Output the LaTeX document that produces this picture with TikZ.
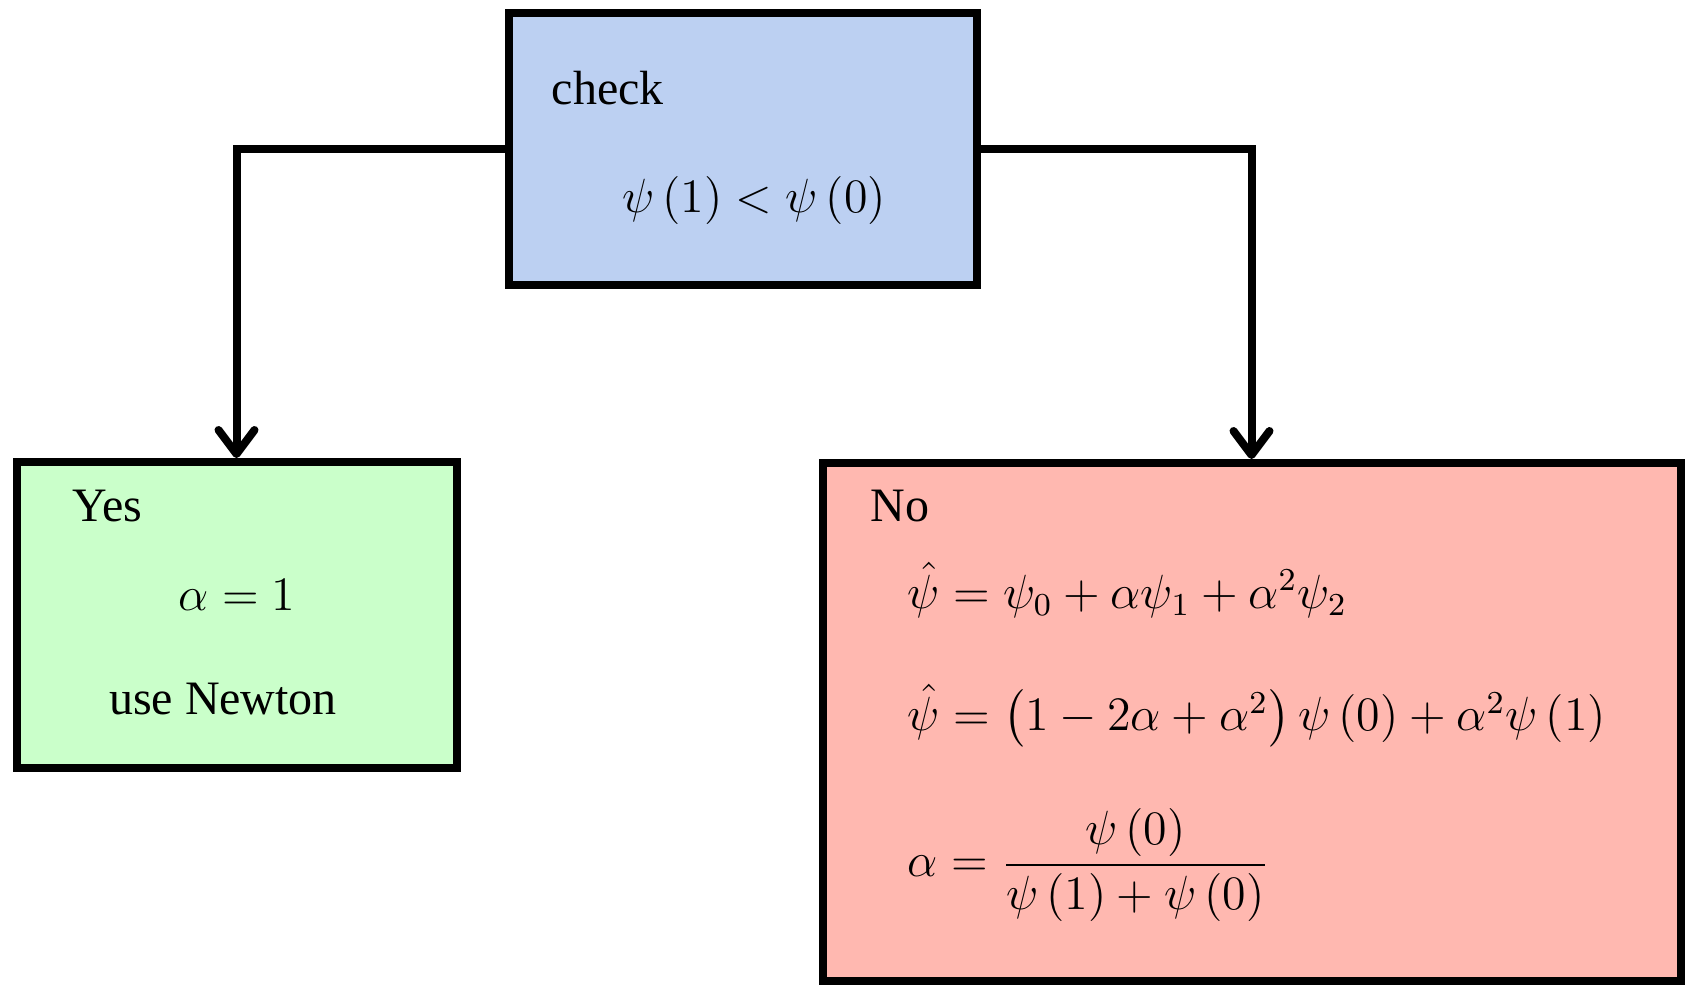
\documentclass[tikz,border=0pt,12pt]{standalone}
\usepackage{amsmath, amssymb}
\usepackage[no-math]{fontspec}
\setmainfont{Liberation Serif}
\usetikzlibrary{arrows.meta}
\definecolor{checkblue}{RGB}{188,208,242}
\definecolor{yesgreen}{RGB}{202,255,202}
\definecolor{nored}{RGB}{255,184,176}
\tikzstyle{box} = [rectangle, draw=black, line width=2pt, inner sep=0pt]
\tikzstyle{checkbox} = [box, fill=checkblue, minimum width=117pt, minimum height=68pt]
\tikzstyle{yesbox} = [box, fill=yesgreen, minimum width=110pt, minimum height=76.5pt]
\tikzstyle{nobox} = [box, fill=nored, minimum width=214.5pt, minimum height=129.5pt]
\tikzstyle{txt} = [inner sep=0pt]
\tikzstyle{arrow} = [line width=2pt, -{Straight Barb[length=6pt, width=9pt, round]}]

\begin{document}
\begin{tikzpicture}[x=0.25pt, y=-0.25pt]
  \useasboundingbox (0,0) rectangle (1689,984);
  \node (check)[checkbox] at (743,149) {};
  \node (yes)[yesbox] at (236.5,615) {};
  \node (no)[nobox] at (1251.5,722) {};
  \node (checktxt)[txt, anchor=west] at (551,88) {check};
  \node (cond)[txt] at (754,200) {$\psi\left(1\right)<\psi\left(0\right)$};
  \node (yestxt)[txt, anchor=west] at (72,506) {Yes};
  \node (alpha1)[txt] at (237,595) {$\alpha=1$};
  \node (newton)[txt] at (223,699) {use Newton};
  \node (notxt)[txt, anchor=west] at (870,506) {No};
  \node (eq1)[txt, anchor=west] at (907,590) {$\hat{\psi}=\psi_0+\alpha\psi_1+\alpha^2\psi_2$};
  \node (eq2)[txt, anchor=west] at (907,716) {$\hat{\psi}=\bigl(1-2\alpha+\alpha^2\bigr)\,\psi\left(0\right)+\alpha^2\psi\left(1\right)$};
  \node (eq3)[txt, anchor=west] at (907,865) {$\displaystyle\alpha=\frac{\psi\left(0\right)}{\psi\left(1\right)+\psi\left(0\right)}$};
  \draw [arrow] (check.west) -| (yes.north);
  \draw [arrow] (check.east) -| (no.north);
\end{tikzpicture}
\end{document}
